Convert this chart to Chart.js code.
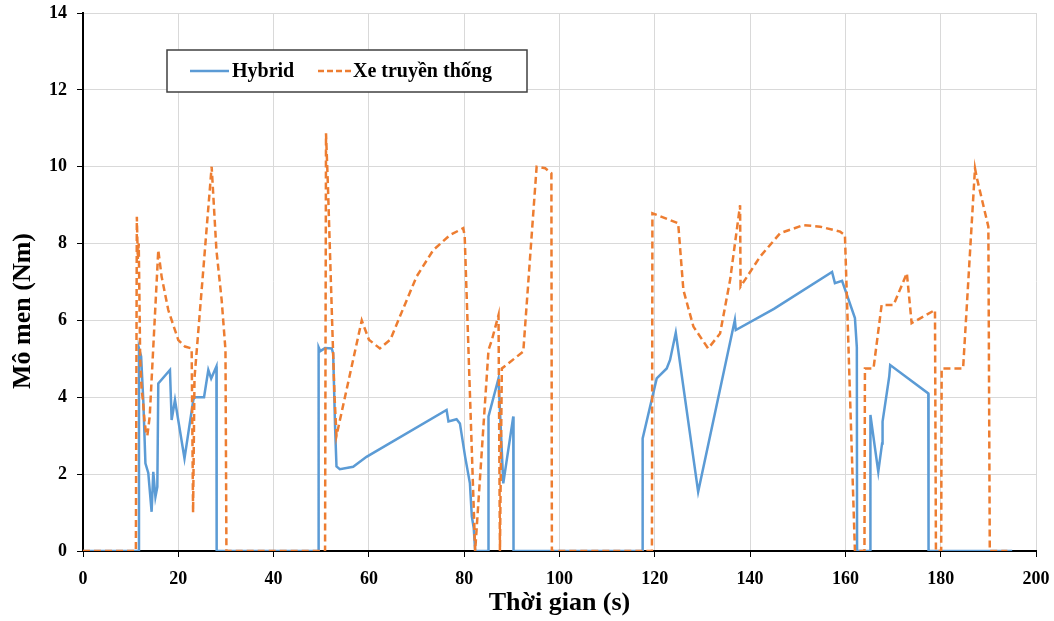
<!DOCTYPE html>
<html>
<head>
<meta charset="utf-8">
<script src="https://cdn.jsdelivr.net/npm/chart.js@4"></script>
<style>
    body { margin: 0; background: #fff; }
    #wrap { width: 1054px; height: 621px; position: relative; }
</style>
</head>
<body>
<div id="wrap"><canvas id="torque_chart" width="1054" height="621"></canvas></div>
<script>
// ========== DATA ==========
const xTicks = [0, 20, 40, 60, 80, 100, 120, 140, 160, 180, 200];
const yTicks = [0, 2, 4, 6, 8, 10, 12, 14];

const seriesNames = ['Hybrid', 'Xe truyền thống'];
const xTitle = 'Thời gian (s)';
const yTitle = 'Mô men (Nm)';

// Hybrid - thoi gian (s) / mo men (Nm)
const hybridTime = [
    0, 11.7, 11.75, 12.2, 12.65, 13.1, 13.7, 14.4, 14.75, 15.2,
    15.6, 15.8, 18.25, 18.6, 19.3, 21.3, 23.15, 23.4, 25.4, 26.3,
    26.9, 28.0, 28.05, 49.4, 49.45, 49.8, 50.8, 52.2, 52.5, 52.9,
    53.2, 53.9, 56.7, 59.5, 76.3, 76.7, 78.4, 79.1, 80.2, 81.2,
    81.6, 82.0, 82.3, 85.0, 85.1, 87.2, 88.2, 90.3, 90.35, 117.4,
    117.45, 120.4, 122.5, 123.2, 124.4, 129.1, 136.8, 137.0, 145, 157.2,
    157.8, 159.3, 162.0, 162.4, 162.45, 165.2, 165.25, 166.9, 167.7, 167.8,
    169.2, 169.4, 177.4, 177.45, 195
];
const hybridTorque = [
    0, 0, 5.27, 5.06, 3.93, 2.28, 2.03, 1.02, 2.06, 1.41,
    1.67, 4.36, 4.71, 3.41, 3.93, 2.41, 3.93, 4.0, 4.0, 4.71,
    4.49, 4.8, 0, 0, 5.3, 5.2, 5.28, 5.27, 5.14, 3.23,
    2.2, 2.13, 2.19, 2.45, 3.67, 3.37, 3.43, 3.32, 2.45, 1.76,
    0.9, 0.6, 0, 0, 3.5, 4.49, 1.76, 3.5, 0, 0,
    2.93, 4.49, 4.75, 4.97, 5.68, 1.54, 6.01, 5.75, 6.3, 7.26,
    6.97, 7.03, 6.06, 5.3, 0, 0, 3.54, 2.06, 2.8, 3.37,
    4.54, 4.84, 4.1, 0, 0
];

// Xe truyen thong
const xeTime = [
    0, 11.1, 11.3, 11.5, 11.7, 12.0, 12.3, 12.6, 12.9, 13.2,
    13.5, 14.0, 15.8, 16.5, 17.9, 20.0, 21.4, 22.8, 23.1, 23.4,
    27.0, 28.0, 29.1, 29.9, 30.1, 50.8, 51.0, 51.4, 51.9, 52.4,
    52.8, 53.2, 58.5, 60.0, 62.3, 64.5, 66.5, 70.0, 73.5, 77.0,
    79.8, 80.1, 82.3, 85.1, 85.8, 87.2, 87.5, 87.9, 92.4, 95.2,
    97.0, 98.3, 98.4, 119.4, 119.5, 124.9, 126.0, 128.1, 131.2, 133.7,
    135.8, 137.9, 138.0, 142.1, 146.3, 151.2, 154.7, 158.9, 159.9, 162.0,
    164.0, 164.1, 165.9, 167.6, 170.1, 172.9, 173.9, 178.8, 179.0, 180.1,
    180.2, 184.7, 187.2, 187.6, 190.0, 190.3, 194
];
const xeTorque = [
    0, 0, 8.7, 7.6, 8.0, 5.0, 4.2, 3.9, 3.4, 3.1,
    3.0, 3.5, 7.83, 7.14, 6.27, 5.49, 5.32, 5.27, 1.0, 4.5,
    10.0, 7.83, 6.53, 5.23, 0, 0, 10.87, 9.5, 7.5, 5.5,
    4.0, 3.0, 6.0, 5.5, 5.27, 5.5, 6.1, 7.14, 7.83, 8.22,
    8.4, 8.2, 0, 5.23, 5.49, 6.14, 0, 4.75, 5.19, 10.0,
    9.96, 9.83, 0, 0, 8.79, 8.53, 6.79, 5.84, 5.27, 5.66,
    7.05, 9.0, 6.88, 7.66, 8.27, 8.48, 8.44, 8.31, 8.22, 0,
    0, 4.75, 4.75, 6.4, 6.4, 7.23, 5.93, 6.27, 0, 0,
    4.75, 4.75, 9.96, 9.7, 8.44, 0, 0
];

const BLUE = '#5B9BD5';
const ORANGE = '#ED7D31';
const FONT = '"Liberation Serif", "Times New Roman", serif';

function toPoints(xs, ys) {
    return xs.map((x, i) => ({ x: x, y: ys[i] }));
}

// legend box drawn inside the plot, like the Excel chart
const boxLegend = {
    id: 'boxLegend',
    afterDraw(chart) {
        const ctx = chart.ctx;
        const x0 = 167, y0 = 50, w = 360, h = 42;
        ctx.save();
        ctx.fillStyle = '#fff';
        ctx.fillRect(x0, y0, w, h);
        ctx.strokeStyle = '#404040';
        ctx.lineWidth = 1.5;
        ctx.strokeRect(x0, y0, w, h);

        const cy = y0 + h / 2;
        ctx.font = 'bold 20px ' + FONT;
        ctx.textBaseline = 'middle';
        ctx.fillStyle = '#000';

        ctx.strokeStyle = BLUE;
        ctx.lineWidth = 2.5;
        ctx.beginPath();
        ctx.moveTo(190, cy);
        ctx.lineTo(229, cy);
        ctx.stroke();
        ctx.fillText(seriesNames[0], 232, cy + 1);

        ctx.strokeStyle = ORANGE;
        ctx.setLineDash([6, 3]);
        ctx.beginPath();
        ctx.moveTo(318, cy);
        ctx.lineTo(351, cy);
        ctx.stroke();
        ctx.setLineDash([]);
        ctx.fillText(seriesNames[1], 353, cy + 1);

        // y axis title, sits a bit below the axis middle in the original
        ctx.translate(23, 311);
        ctx.rotate(-Math.PI / 2);
        ctx.font = 'bold 26px ' + FONT;
        ctx.textAlign = 'center';
        ctx.fillText(yTitle, 0, 0);
        ctx.restore();
    }
};

function noPad(axis) {
    axis.paddingTop = 0;
    axis.paddingBottom = 0;
    axis.paddingLeft = 0;
    axis.paddingRight = 0;
}

const ctx = document.getElementById('torque_chart').getContext('2d');

new Chart(ctx, {
    type: 'line',
    data: {
        datasets: [
            {
                label: seriesNames[0],
                data: toPoints(hybridTime, hybridTorque),
                borderColor: BLUE,
                backgroundColor: BLUE,
                borderWidth: 2.5,
                pointRadius: 0,
                tension: 0,
                order: 1
            },
            {
                label: seriesNames[1],
                data: toPoints(xeTime, xeTorque),
                borderColor: ORANGE,
                backgroundColor: ORANGE,
                borderWidth: 2.5,
                borderDash: [7, 4],
                pointRadius: 0,
                tension: 0,
                order: 0
            }
        ]
    },
    options: {
        responsive: false,
        animation: false,
        layout: { padding: { top: 13, right: 18, left: 0, bottom: 0 } },
        plugins: {
            legend: { display: false },
            tooltip: { enabled: false }
        },
        scales: {
            x: {
                type: 'linear',
                min: 0,
                max: 200,
                afterBuildTicks: (axis) => { axis.ticks = xTicks.map(v => ({ value: v })); },
                afterFit: (axis) => { axis.height = 70; noPad(axis); },
                grid: { color: '#d9d9d9', tickColor: '#000', tickLength: 6, lineWidth: 1 },
                border: { color: '#000', width: 2 },
                ticks: {
                    color: '#000',
                    padding: 12,
                    maxRotation: 0,
                    font: { family: FONT, size: 18, weight: 'bold' }
                },
                title: {
                    display: true,
                    text: xTitle,
                    color: '#000',
                    padding: { top: 0, bottom: 2 },
                    font: { family: FONT, size: 26, weight: 'bold' }
                }
            },
            y: {
                min: 0,
                max: 14,
                afterBuildTicks: (axis) => { axis.ticks = yTicks.map(v => ({ value: v })); },
                afterFit: (axis) => { axis.width = 83; noPad(axis); },
                grid: { color: '#d9d9d9', tickColor: '#000', tickLength: 6, lineWidth: 1 },
                border: { color: '#000', width: 2 },
                ticks: {
                    color: '#000',
                    padding: 10,
                    font: { family: FONT, size: 18, weight: 'bold' }
                },
                title: { display: false }
            }
        }
    },
    plugins: [boxLegend]
});
</script>
</body>
</html>
